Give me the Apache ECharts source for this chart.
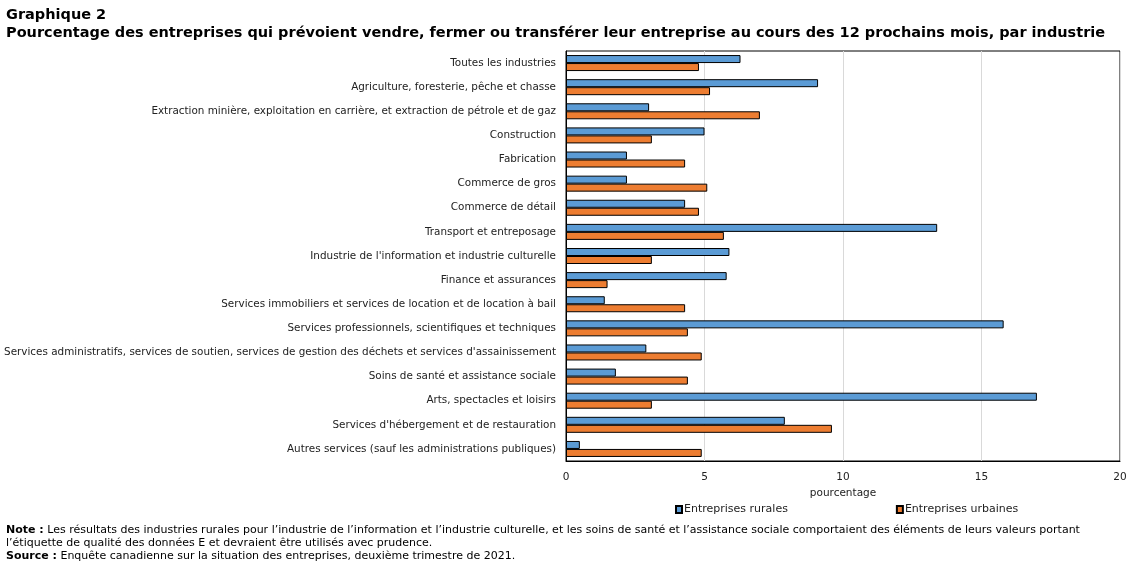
<!DOCTYPE html>
<html><head><meta charset="utf-8">
<script src="https://cdn.jsdelivr.net/npm/echarts@6/dist/echarts.min.js"></script>
<style>
html,body{margin:0;padding:0;background:#fff;}
#wrap{position:relative;width:1135px;height:567px;overflow:hidden;font-family:"DejaVu Sans",Verdana,sans-serif;color:#000;}
#chart{position:absolute;left:0;top:0;width:1135px;height:567px;}
.t1{position:absolute;left:6px;top:6px;font-weight:bold;font-size:14.5px;}
.t2{position:absolute;left:6px;top:24px;font-weight:bold;font-size:14.5px;white-space:nowrap;}
.note{position:absolute;left:6px;top:523px;font-size:11px;line-height:13px;width:1085px;}
</style></head>
<body><div id="wrap">
<div id="chart"></div>
<div class="t1">Graphique 2</div>
<div class="t2">Pourcentage des entreprises qui prévoient vendre, fermer ou transférer leur entreprise au cours des 12 prochains mois, par industrie</div>
<div class="note"><b>Note :</b> Les résultats des industries rurales pour l’industrie de l’information et l’industrie culturelle, et les soins de santé et l’assistance sociale comportaient des éléments de leurs valeurs portant l’étiquette de qualité des données E et devraient être utilisés avec prudence.<br><b>Source :</b> Enquête canadienne sur la situation des entreprises, deuxième trimestre de 2021.</div>
</div>
<script>
const categories = [
  "Toutes les industries",
  "Agriculture, foresterie, pêche et chasse",
  "Extraction minière, exploitation en carrière, et extraction de pétrole et de gaz",
  "Construction",
  "Fabrication",
  "Commerce de gros",
  "Commerce de détail",
  "Transport et entreposage",
  "Industrie de l'information et industrie culturelle",
  "Finance et assurances",
  "Services immobiliers et services de location et de location à bail",
  "Services professionnels, scientifiques et techniques",
  "Services administratifs, services de soutien, services de gestion des déchets et services d'assainissement",
  "Soins de santé et assistance sociale",
  "Arts, spectacles et loisirs",
  "Services d'hébergement et de restauration",
  "Autres services (sauf les administrations publiques)"
];
const rurales = [6.3, 9.1, 3.0, 5.0, 2.2, 2.2, 4.3, 13.4, 5.9, 5.8, 1.4, 15.8, 2.9, 1.8, 17.0, 7.9, 0.5];
const urbaines = [4.8, 5.2, 7.0, 3.1, 4.3, 5.1, 4.8, 5.7, 3.1, 1.5, 4.3, 4.4, 4.9, 4.4, 3.1, 9.6, 4.9];
const seriesNames = ["Entreprises rurales", "Entreprises urbaines"];
const xTicks = {min: 0, max: 20, interval: 5};

const chart = echarts.init(document.getElementById('chart'), null, {renderer: 'canvas'});
const font = '"DejaVu Sans", Verdana, sans-serif';
chart.setOption({
  animation: false,
  textStyle: {fontFamily: font},
  grid: {left: 566, right: 15, top: 51, bottom: 106, show: true, borderColor: '#000', borderWidth: 1,
         containLabel: false, outerBoundsMode: 'none'},
  legend: {
    data: seriesNames, left: 670, top: 499, itemWidth: 6, itemHeight: 7, itemGap: 108,
    icon: 'rect',
    textStyle: {fontSize: 11, color: '#222', padding: [0, 0, 0, -3]}
  },
  xAxis: {
    type: 'value', min: xTicks.min, max: xTicks.max, interval: xTicks.interval,
    name: 'pourcentage', nameLocation: 'middle', nameGap: 25,
    nameTextStyle: {fontSize: 10.5, color: '#222'},
    axisLine: {show: true, lineStyle: {color: '#000'}},
    axisTick: {show: false},
    axisLabel: {fontSize: 10.5, color: '#222', margin: 11},
    splitLine: {show: true, lineStyle: {color: '#d9d9d9', width: 1}}
  },
  yAxis: {
    type: 'category', data: categories, inverse: true,
    axisLine: {show: true, lineStyle: {color: '#000'}},
    axisTick: {show: false},
    axisLabel: {fontSize: 10.4, color: '#222', margin: 10}
  },
  series: [
    {name: seriesNames[0], type: 'bar', data: rurales, barWidth: 8, barGap: '0%',
     itemStyle: {color: '#5B9BD5', borderColor: '#000', borderWidth: 1}},
    {name: seriesNames[1], type: 'bar', data: urbaines, barWidth: 8, barGap: '0%',
     itemStyle: {color: '#ED7D31', borderColor: '#000', borderWidth: 1}}
  ]
});
</script>
</body></html>
